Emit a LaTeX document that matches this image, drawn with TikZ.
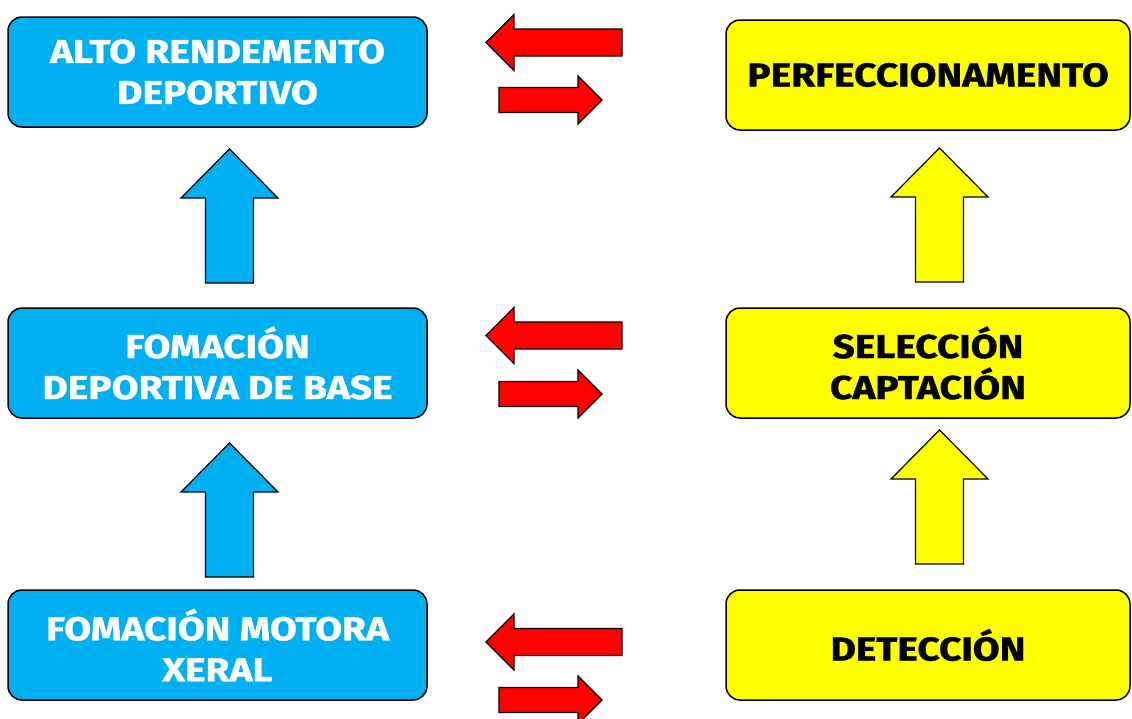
\documentclass[tikz,border=0pt]{standalone}
\usepackage{fontspec}
\setmainfont{Fira Sans}[BoldFeatures={FakeStretch=1.18, FakeBold=1.2}]
\definecolor{boxblue}{HTML}{00B0F0}
\definecolor{boxyellow}{HTML}{FFFF00}
\definecolor{arrred}{HTML}{FF0000}
\tikzset{
  box/.style={draw=black, line width=1.5pt, rounded corners=14pt,
    minimum height=110pt, align=center, inner sep=0pt,
    font=\bfseries\fontsize{33}{41}\selectfont},
  bluebox/.style={box, fill=boxblue, text=white, minimum width=419pt},
  yellowbox/.style={box, fill=boxyellow, text=black, minimum width=404pt},
  blockarrow/.style={draw=black, line width=1.2pt, line join=miter},
  bluearrow/.style={blockarrow, fill=boxblue},
  yellowarrow/.style={blockarrow, fill=boxyellow},
  redarrow/.style={blockarrow, fill=arrred},
  uparr/.pic={\path[pic actions] (0,0) -- (48.5,49) -- (24,49) -- (24,134)
     -- (-24,134) -- (-24,49) -- (-48.5,49) -- cycle;},
  leftarr/.pic={\path[pic actions] (0,0) -- (28,-28) -- (28,-13.5) -- (136,-13.5)
     -- (136,13.5) -- (28,13.5) -- (28,28) -- cycle;},
  rightarr/.pic={\path[pic actions] (0,0) -- (-24,-24) -- (-24,-12.5) -- (-103,-12.5)
     -- (-103,12.5) -- (-24,12.5) -- (-24,24) -- cycle;},
}
\begin{document}
\begin{tikzpicture}[x=1pt, y=-1pt]
\useasboundingbox[fill=white] (0,0) rectangle (1132,718);

% boxes
\node[bluebox] (alto) at (217.5,72) {ALTO RENDEMENTO\\DEPORTIVO};
\node[bluebox] (base) at (217.5,363) {FOMACIÓN\\DEPORTIVA DE BASE};
\node[bluebox] (xeral) at (217.5,645) {FOMACIÓN MOTORA\\XERAL};
\node[yellowbox] (perf) at (928,75) {PERFECCIONAMENTO};
\node[yellowbox] (sel) at (928,363) {SELECCIÓN\\CAPTACIÓN};
\node[yellowbox] (det) at (928,645) {DETECCIÓN};

% vertical arrows
\pic[bluearrow] (b1) at (229.5,149) {uparr};
\pic[bluearrow] (b2) at (229.5,443) {uparr};
\pic[yellowarrow] (y1) at (939.5,148) {uparr};
\pic[yellowarrow] (y2) at (939.5,430) {uparr};

% horizontal arrows
\pic[redarrow] (l1) at (486,42.5) {leftarr};
\pic[redarrow] (r1) at (602,100) {rightarr};
\pic[redarrow] (l2) at (486,335.5) {leftarr};
\pic[redarrow] (r2) at (602,394) {rightarr};
\pic[redarrow] (l3) at (486,642) {leftarr};
\pic[redarrow] (r3) at (602,700) {rightarr};
\end{tikzpicture}
\end{document}
